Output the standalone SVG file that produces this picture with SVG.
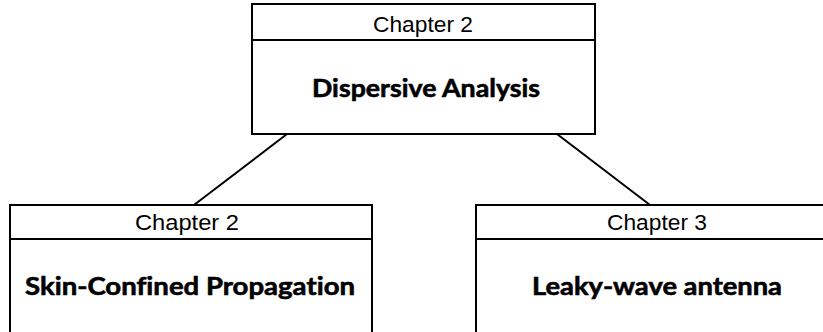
<svg xmlns="http://www.w3.org/2000/svg" width="823" height="332" viewBox="0 0 823 332">
<style>
.box{fill:#fff;stroke:#000;stroke-width:2}
.div{stroke:#000;stroke-width:2}
.ch{font-family:"Liberation Sans",Arial,sans-serif;font-size:21.5px;fill:#000;text-anchor:middle}
.tt{font-family:Lato,"Open Sans",sans-serif;font-weight:bold;font-size:25px;fill:#000;stroke:#000;stroke-width:0.6;text-anchor:middle;font-variant-ligatures:none}
.conn{stroke:#000;stroke-width:2;fill:none}
</style>
<rect width="823" height="332" fill="#fff"/>
<g id="connectors">
<line class="conn" x1="287" y1="134" x2="194" y2="205"/>
<line class="conn" x1="557" y1="134" x2="650" y2="205"/>
</g>
<g id="node-dispersive">
<rect class="box" x="252" y="4" width="343" height="130"/>
<line class="div" x1="252" y1="40" x2="595" y2="40"/>
<text class="ch" x="423" y="32" textLength="100" lengthAdjust="spacingAndGlyphs">Chapter 2</text>
<text class="tt" x="426" y="97" textLength="228" lengthAdjust="spacingAndGlyphs">Dispersive Analysis</text>
</g>
<g id="node-skin">
<rect class="box" x="10" y="205" width="362" height="140"/>
<line class="div" x1="10" y1="239" x2="372" y2="239"/>
<text class="ch" x="187" y="230" textLength="104" lengthAdjust="spacingAndGlyphs">Chapter 2</text>
<text class="tt" x="190" y="295" textLength="330" lengthAdjust="spacingAndGlyphs">Skin-Confined Propagation</text>
</g>
<g id="node-leaky">
<rect class="box" x="476" y="205" width="362" height="140"/>
<line class="div" x1="476" y1="239" x2="838" y2="239"/>
<text class="ch" x="657" y="230" textLength="100" lengthAdjust="spacingAndGlyphs">Chapter 3</text>
<text class="tt" x="657" y="295" textLength="250" lengthAdjust="spacingAndGlyphs">Leaky-wave antenna</text>
</g>
</svg>
